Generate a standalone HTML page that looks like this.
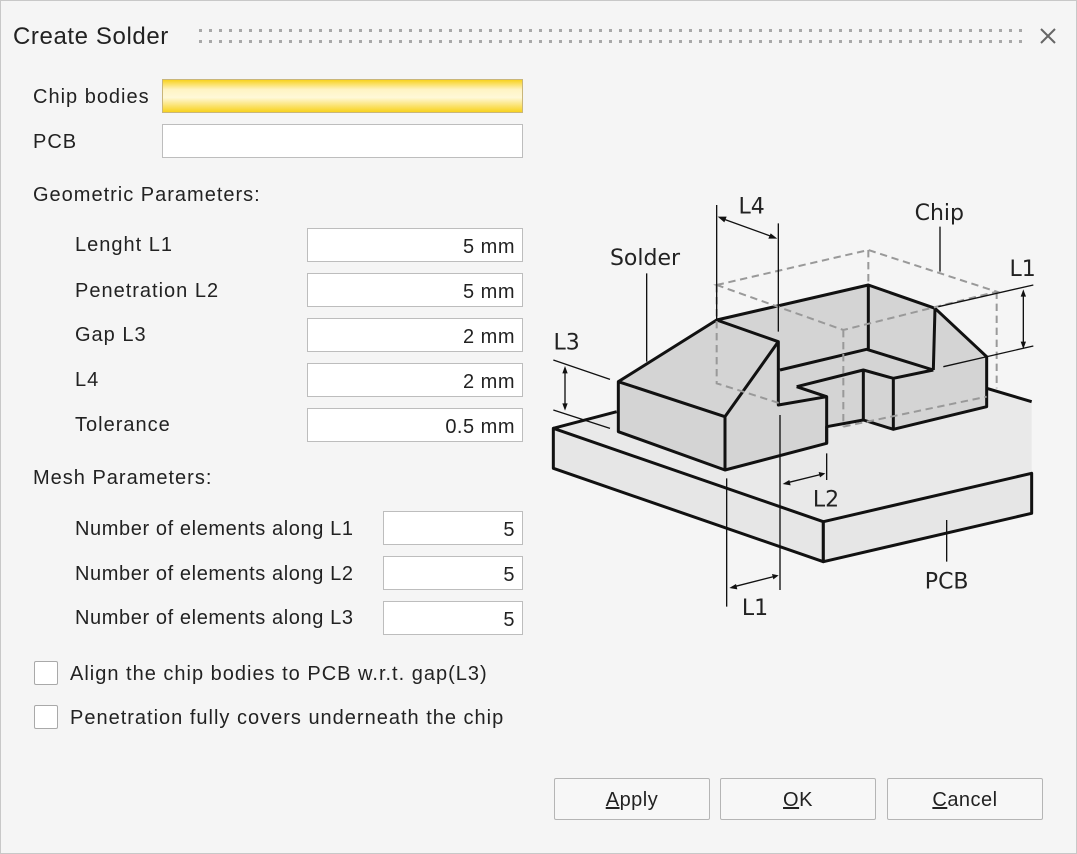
<!DOCTYPE html>
<html><head><meta charset="utf-8"><style>
*{box-sizing:border-box;margin:0;padding:0}
body{width:1077px;height:854px;background:#f5f5f5;font-family:"Liberation Sans",Arial,sans-serif;color:#222;position:relative;overflow:hidden}
.frame{position:absolute;left:0;top:0;width:1077px;height:854px;border:1px solid #c8c8c8}
.t{position:absolute;font-size:20px;letter-spacing:1px;line-height:24px;white-space:nowrap}
.in{position:absolute;background:#fff;border:1px solid #bdbdbd;font-size:20px;letter-spacing:0.5px;text-align:right;padding-right:7px;line-height:36px}
.cb{position:absolute;width:24px;height:24px;background:#fff;border:1px solid #a9a9a9;border-radius:2px}
.btn{position:absolute;top:778px;width:156px;height:42px;border:1px solid #b5b5b5;background:#f7f7f7;font-size:20px;letter-spacing:0.5px;text-align:center;line-height:42px;border-radius:2px}
</style></head><body>
<div class="frame"></div>
<div class="t" style="left:13px;top:23px;font-size:24px;line-height:28px;letter-spacing:0.6px">Create Solder</div>
<svg style="position:absolute;left:198px;top:28px" width="826" height="20">
<defs><pattern id="d" width="10" height="11" patternUnits="userSpaceOnUse"><rect x="1" y="1" width="3" height="3" fill="#a8a8a8"/></pattern></defs>
<rect width="826" height="20" fill="url(#d)"/></svg>
<svg style="position:absolute;left:1039px;top:27px" width="18" height="18"><path d="M2 2L16 16M16 2L2 16" stroke="#666" stroke-width="2"/></svg>

<div class="t" style="left:33px;top:85px">Chip bodies</div>
<div class="in" style="left:162px;top:79px;width:361px;height:34px;border-color:#c9b67a;background:linear-gradient(#f8d21e,#fff4c4 30%,#fff8d8 55%,#f8d21e)"></div>
<div class="t" style="left:33px;top:130px">PCB</div>
<div class="in" style="left:162px;top:124px;width:361px;height:34px"></div>

<div class="t" style="left:33px;top:183px">Geometric Parameters:</div>
<div class="t" style="left:75px;top:233px">Lenght L1</div>
<div class="in" style="left:307px;top:228px;width:216px;height:34px">5 mm</div>
<div class="t" style="left:75px;top:279px">Penetration L2</div>
<div class="in" style="left:307px;top:273px;width:216px;height:34px">5 mm</div>
<div class="t" style="left:75px;top:323px">Gap L3</div>
<div class="in" style="left:307px;top:318px;width:216px;height:34px">2 mm</div>
<div class="t" style="left:75px;top:368px">L4</div>
<div class="in" style="left:307px;top:363px;width:216px;height:34px">2 mm</div>
<div class="t" style="left:75px;top:413px">Tolerance</div>
<div class="in" style="left:307px;top:408px;width:216px;height:34px">0.5 mm</div>

<div class="t" style="left:33px;top:466px">Mesh Parameters:</div>
<div class="t" style="left:75px;top:517px;letter-spacing:0.6px">Number of elements along L1</div>
<div class="in" style="left:383px;top:511px;width:140px;height:34px">5</div>
<div class="t" style="left:75px;top:562px;letter-spacing:0.6px">Number of elements along L2</div>
<div class="in" style="left:383px;top:556px;width:140px;height:34px">5</div>
<div class="t" style="left:75px;top:606px;letter-spacing:0.6px">Number of elements along L3</div>
<div class="in" style="left:383px;top:601px;width:140px;height:34px">5</div>

<div class="cb" style="left:34px;top:661px"></div>
<div class="t" style="left:70px;top:662px">Align the chip bodies to PCB w.r.t. gap(L3)</div>
<div class="cb" style="left:34px;top:705px"></div>
<div class="t" style="left:70px;top:706px">Penetration fully covers underneath the chip</div>

<div class="btn" style="left:554px"><u>A</u>pply</div>
<div class="btn" style="left:720px"><u>O</u>K</div>
<div class="btn" style="left:887px"><u>C</u>ancel</div>

<svg style="position:absolute;left:550px;top:190px" width="490" height="430" viewBox="0 0 1470 1290">
<g stroke="#111" stroke-width="9" stroke-linejoin="round" fill="none">
<polygon points="10,715 210,660 1310,590 1445,630 1445,850 820,995" fill="#e9e9e9" stroke="none"/>
<polygon points="10,715 820,995 820,1115 10,835" fill="#e6e6e6"/>
<polygon points="820,995 1445,850 1445,970 820,1115" fill="#e6e6e6"/>
<path d="M10,715 L200,665 M1310,595 L1445,635"/>
<polygon points="205,575 500,390 955,285 1155,355 1310,500 1310,650 1030,718 940,690 830,710 830,760 525,840 205,725" fill="#d4d4d4"/>
<path d="M205,575 L525,680 L685,455 M525,680 L525,840 M500,390 L685,455 L685,645 L830,620 L830,760 M690,540 L950,478 L1150,540 M1155,355 L1150,540 M955,285 L955,478 M740,590 L940,540 L1030,565 L1150,540 M740,590 L830,620 M940,540 L940,690 M1030,565 L1030,718"/>
</g>
<g stroke="#999" stroke-width="6" stroke-dasharray="22,14" fill="none">
<path d="M500,285 L955,180 L1340,305 L880,420 Z M500,285 L500,580 L690,640 M955,180 L955,285 M1340,305 L1340,595 M880,420 L880,710 M880,710 L1310,620"/>
</g>
<g stroke="#111" stroke-width="4" fill="none">
<path d="M500,45 L500,390 M685,100 L685,425 M515,85 L672,142 M1170,110 L1170,245 M290,250 L290,515 M10,510 L180,568 M10,660 L180,715 M45,535 L45,655 M1165,350 L1450,285 M1180,530 L1450,468 M1420,305 L1420,470 M830,790 L830,870 M690,675 L690,1200 M705,880 L818,852 M530,865 L530,1250 M545,1192 L678,1158 M1190,990 L1190,1115"/>
</g>
<g fill="#111">
<polygon points="503,80 530,80 523,97"/><polygon points="682,146 655,146 662,130"/>
<polygon points="45,528 37,550 53,550"/><polygon points="45,662 37,640 53,640"/>
<polygon points="1420,298 1412,320 1428,320"/><polygon points="1420,477 1412,455 1428,455"/>
<polygon points="698,882 718,870 722,886"/><polygon points="826,850 806,846 810,862"/>
<polygon points="538,1194 558,1182 562,1198"/><polygon points="686,1156 666,1152 670,1168"/>
</g>
<g font-family="DejaVu Sans,Liberation Sans,sans-serif" font-size="66" fill="#222" text-anchor="middle">
<text x="605" y="70">L4</text><text x="1168" y="90">Chip</text><text x="285" y="225">Solder</text>
<text x="50" y="478">L3</text><text x="1418" y="258">L1</text><text x="828" y="950">L2</text>
<text x="615" y="1275">L1</text><text x="1190" y="1195">PCB</text>
</g>
</svg>
</body></html>
